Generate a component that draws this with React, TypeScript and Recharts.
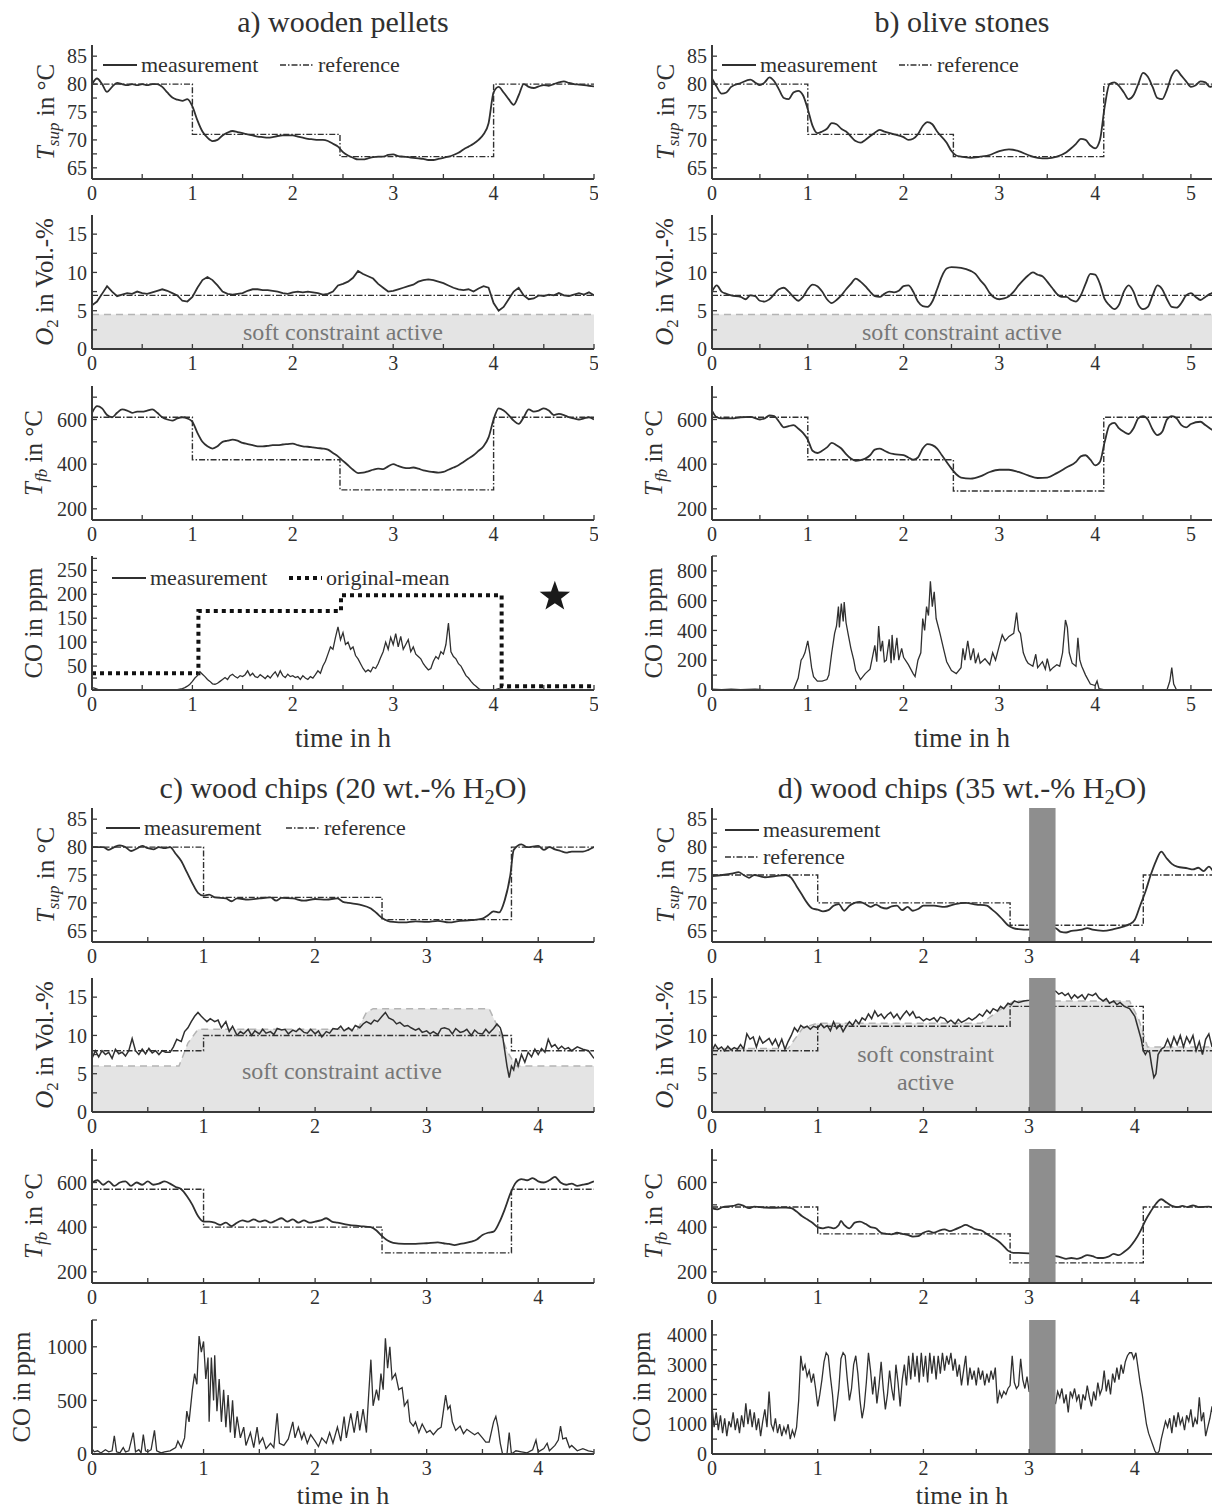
import React from 'react';
import { ComposedChart, Line, Area, XAxis, YAxis, ReferenceArea, ReferenceLine, ReferenceDot } from 'recharts';

type P = [number, number][];

// ---------- panel a: wooden pellets ----------
const aTsup: P = [[0,80],[0.05,81],[0.1,80],[0.15,78.6],[0.2,79.5],[0.25,80.2],[0.3,80],[0.35,79.8],[0.4,80],[0.45,79.8],[0.5,80],[0.55,79.8],[0.6,80],[0.65,80],[0.7,79.5],[0.75,78.5],[0.8,77.6],[0.85,77.2],[0.9,77],[0.95,77.3],[1,76],[1.05,73.5],[1.1,71.5],[1.15,70.4],[1.2,69.8],[1.25,70],[1.3,70.8],[1.35,71.3],[1.4,71.6],[1.45,71.4],[1.5,71.2],[1.55,71],[1.6,70.8],[1.65,70.6],[1.7,70.5],[1.75,70.4],[1.8,70.5],[1.85,70.7],[1.9,70.8],[1.95,70.8],[2,70.8],[2.05,70.6],[2.1,70.4],[2.15,70.2],[2.2,70.1],[2.25,70],[2.3,70],[2.35,69.8],[2.4,69.3],[2.45,68.8],[2.5,67.8],[2.55,67.2],[2.6,66.8],[2.65,66.5],[2.7,66.5],[2.75,66.7],[2.8,66.9],[2.85,67],[2.9,67],[2.95,67.3],[3,67.4],[3.05,67.1],[3.1,67],[3.15,66.9],[3.2,66.8],[3.25,66.7],[3.3,66.6],[3.35,66.4],[3.4,66.4],[3.45,66.6],[3.5,66.8],[3.55,67],[3.6,67.3],[3.65,67.7],[3.7,68.3],[3.75,68.8],[3.8,69.3],[3.85,70],[3.9,71],[3.95,73],[4,78.5],[4.05,79.5],[4.1,78.5],[4.15,77.3],[4.2,76.3],[4.25,78],[4.3,80],[4.35,79.5],[4.4,79.3],[4.45,79.6],[4.5,79.8],[4.55,79.7],[4.6,80],[4.65,80.3],[4.7,80.5],[4.75,80.2],[4.8,80],[4.85,79.9],[4.9,79.8],[4.95,79.7],[5,79.6]];
const aTref: P = [[0,80],[1,71],[2.47,67],[4,80],[5,80]];
const aO2: P = [[0,5.7],[0.05,6.2],[0.1,7.2],[0.15,8.2],[0.2,7.5],[0.25,6.9],[0.3,7.1],[0.35,7.3],[0.4,7.2],[0.45,7.5],[0.5,7.3],[0.55,7.2],[0.6,7.4],[0.65,7.6],[0.7,7.8],[0.75,7.6],[0.8,7.3],[0.85,7],[0.9,6.3],[0.95,6.2],[1,6.8],[1.05,8],[1.1,9],[1.15,9.4],[1.2,9],[1.25,8.3],[1.3,7.5],[1.35,7.2],[1.4,7.1],[1.45,7.2],[1.5,7.3],[1.55,7.6],[1.6,7.8],[1.65,7.8],[1.7,7.7],[1.75,7.7],[1.8,7.6],[1.85,7.5],[1.9,7.3],[1.95,7.2],[2,7.4],[2.05,7.5],[2.1,7.4],[2.15,7.5],[2.2,7.4],[2.25,7.3],[2.3,7.1],[2.35,7.2],[2.4,7.5],[2.45,8.3],[2.5,8.5],[2.55,8.8],[2.6,9.3],[2.65,10.2],[2.7,9.8],[2.75,9.5],[2.8,9.2],[2.85,8.5],[2.9,8],[2.95,7.5],[3,7.6],[3.05,7.8],[3.1,8],[3.15,8.2],[3.2,8.4],[3.25,8.8],[3.3,9],[3.35,9.1],[3.4,9],[3.45,8.8],[3.5,8.6],[3.55,8.3],[3.6,8],[3.65,7.8],[3.7,7.7],[3.75,7.8],[3.8,7.5],[3.85,7.9],[3.9,8.2],[3.95,8],[4,6],[4.05,5],[4.1,5.5],[4.15,6.5],[4.2,7.5],[4.25,8],[4.3,7],[4.35,6.5],[4.4,6.6],[4.45,7],[4.5,6.9],[4.55,7.1],[4.6,7],[4.65,7.3],[4.7,7],[4.75,6.9],[4.8,7.1],[4.85,7.3],[4.9,7.1],[4.95,7.4],[5,7]];
const aO2ref: P = [[0,7],[5,7]];
const aSoft = 4.5;
const aTfb: P = [[0,630],[0.05,660],[0.1,650],[0.15,620],[0.2,610],[0.25,630],[0.3,645],[0.35,640],[0.4,630],[0.45,635],[0.5,635],[0.55,640],[0.6,645],[0.65,630],[0.7,610],[0.75,600],[0.8,595],[0.85,605],[0.9,610],[0.95,605],[1,590],[1.05,540],[1.1,500],[1.15,480],[1.2,470],[1.25,480],[1.3,500],[1.35,505],[1.4,510],[1.45,505],[1.5,495],[1.55,490],[1.6,485],[1.65,480],[1.7,480],[1.75,482],[1.8,485],[1.85,485],[1.9,488],[1.95,490],[2,492],[2.05,485],[2.1,480],[2.15,478],[2.2,475],[2.25,472],[2.3,470],[2.35,465],[2.4,450],[2.45,435],[2.5,415],[2.55,395],[2.6,375],[2.65,360],[2.7,362],[2.75,368],[2.8,375],[2.85,380],[2.9,378],[2.95,390],[3,400],[3.05,392],[3.1,385],[3.15,382],[3.2,385],[3.25,380],[3.3,372],[3.35,368],[3.4,365],[3.45,362],[3.5,365],[3.55,375],[3.6,385],[3.65,395],[3.7,410],[3.75,425],[3.8,440],[3.85,460],[3.9,480],[3.95,520],[4,600],[4.05,650],[4.1,640],[4.15,620],[4.2,595],[4.25,580],[4.3,610],[4.35,645],[4.4,635],[4.45,640],[4.5,650],[4.55,640],[4.6,620],[4.65,625],[4.7,620],[4.75,610],[4.8,605],[4.85,600],[4.9,605],[4.95,610],[5,600]];
const aTfbRef: P = [[0,610],[1,420],[2.47,285],[4,610],[5,610]];
const aCO: P = [[0,5],[0.025,4],[0.05,2],[0.075,0],[0.825,0],[0.85,1],[0.875,2],[0.9,3],[0.925,5],[0.95,8],[0.975,12],[1,18],[1.025,25],[1.05,30],[1.075,38],[1.1,33],[1.125,28],[1.15,22],[1.175,18],[1.2,13],[1.225,12],[1.25,14],[1.275,18],[1.3,22],[1.325,26],[1.35,22],[1.375,30],[1.4,33],[1.425,28],[1.45,25],[1.475,30],[1.5,28],[1.525,32],[1.55,40],[1.575,30],[1.6,35],[1.625,28],[1.65,26],[1.675,32],[1.7,28],[1.725,24],[1.75,30],[1.775,25],[1.8,32],[1.825,38],[1.85,28],[1.875,40],[1.9,30],[1.925,26],[1.95,33],[1.975,28],[2,30],[2.025,26],[2.05,28],[2.075,22],[2.1,30],[2.125,25],[2.15,22],[2.175,28],[2.2,25],[2.225,32],[2.25,40],[2.275,35],[2.3,50],[2.325,60],[2.35,75],[2.375,90],[2.4,85],[2.425,110],[2.45,132],[2.475,105],[2.5,120],[2.525,95],[2.55,100],[2.575,85],[2.6,90],[2.625,72],[2.65,65],[2.675,55],[2.7,45],[2.725,38],[2.75,42],[2.775,38],[2.8,48],[2.825,45],[2.85,55],[2.875,68],[2.9,80],[2.925,100],[2.95,85],[2.975,110],[3,95],[3.025,118],[3.05,90],[3.075,112],[3.1,85],[3.125,95],[3.15,105],[3.175,80],[3.2,90],[3.225,75],[3.25,70],[3.275,65],[3.3,55],[3.325,48],[3.35,42],[3.375,45],[3.4,60],[3.425,70],[3.45,65],[3.475,80],[3.5,75],[3.525,95],[3.55,140],[3.575,80],[3.6,70],[3.625,65],[3.65,55],[3.675,50],[3.7,40],[3.725,30],[3.75,25],[3.775,18],[3.8,12],[3.825,8],[3.85,3],[3.875,0],[4.0,0],[4.05,3],[4.1,0],[4.15,2],[4.2,0],[5,0]];
const aCOmean: P = [[0,35],[1.06,165],[2.48,198],[4.08,8],[5,8]];
const aStar: P = [[4.61,195]];

// ---------- panel b: olive stones ----------
const bTsup: P = [[0,81],[0.05,79.5],[0.1,78.3],[0.15,78.5],[0.2,79.5],[0.3,80.2],[0.4,80.8],[0.45,80.3],[0.5,79.8],[0.55,80.3],[0.6,81.2],[0.65,80.5],[0.7,79],[0.75,77.5],[0.8,77.3],[0.85,78.5],[0.9,78.8],[0.95,78],[1,75.5],[1.05,72.5],[1.1,71.2],[1.15,71.5],[1.2,72],[1.25,73],[1.3,72.8],[1.35,72],[1.4,71.5],[1.5,69.8],[1.55,69.5],[1.6,70],[1.7,71.3],[1.75,71.8],[1.8,71.5],[1.9,71],[2,70.5],[2.05,70],[2.1,70.2],[2.15,71],[2.2,72.5],[2.25,73.2],[2.3,72.8],[2.35,71.5],[2.45,69.5],[2.5,68],[2.55,67.2],[2.6,67],[2.7,66.8],[2.8,67],[2.9,67.3],[3,68],[3.1,68.3],[3.2,68],[3.3,67.3],[3.4,66.8],[3.5,66.7],[3.6,67],[3.7,67.8],[3.75,68.5],[3.8,69.3],[3.85,70.2],[3.9,70],[3.95,69],[4,68.5],[4.05,70],[4.1,76],[4.15,80],[4.2,80.3],[4.3,78.5],[4.35,77.3],[4.4,78],[4.45,80],[4.5,82],[4.55,81.3],[4.6,79.5],[4.65,77.5],[4.7,77.3],[4.75,79],[4.8,81.5],[4.85,82.5],[4.9,81.5],[4.95,80.5],[5,79.5],[5.05,79.8],[5.1,80.5],[5.15,80.3],[5.2,79.5],[5.25,80]];
const bTref: P = [[0,80],[1,71],[2.52,67],[4.09,80],[5.25,80]];
const bO2: P = [[0,7.5],[0.05,8.3],[0.1,7.5],[0.15,7.2],[0.2,7],[0.3,6.8],[0.35,6.5],[0.4,7],[0.45,6.9],[0.5,6.3],[0.55,6.2],[0.6,6.5],[0.7,7.8],[0.75,8],[0.8,7.5],[0.85,6.8],[0.9,6.3],[0.95,6.8],[1,7.8],[1.05,8.4],[1.1,8.2],[1.15,7.5],[1.2,6.5],[1.25,6],[1.3,6.4],[1.35,7],[1.4,7.8],[1.45,8.5],[1.5,9.2],[1.55,8.8],[1.6,8.2],[1.65,7.5],[1.7,6.9],[1.75,6.8],[1.8,7.2],[1.85,7.5],[1.9,7.4],[1.95,7.6],[2,8.2],[2.05,8.3],[2.1,7.5],[2.15,6.2],[2.2,5.6],[2.25,5.5],[2.3,6.2],[2.35,7.8],[2.4,9.5],[2.45,10.5],[2.5,10.7],[2.6,10.6],[2.7,10.2],[2.75,9.8],[2.8,9],[2.85,8.3],[2.9,7.3],[2.95,6.7],[3,6.5],[3.05,6.6],[3.1,6.9],[3.15,7.5],[3.2,8.3],[3.25,9],[3.3,9.6],[3.35,10],[3.4,9.7],[3.45,9.5],[3.5,8.8],[3.55,8],[3.6,7.2],[3.65,6.8],[3.7,6.8],[3.75,6.4],[3.8,6.2],[3.85,7],[3.9,8.5],[3.95,9.8],[4,9.7],[4.05,8.5],[4.1,6.5],[4.15,5.7],[4.2,5.2],[4.25,5.8],[4.3,7.5],[4.35,8.3],[4.4,7.5],[4.45,5.8],[4.5,5.2],[4.55,5.5],[4.6,7],[4.65,8.3],[4.7,7.8],[4.75,6.5],[4.8,5.5],[4.85,5.4],[4.9,6],[4.95,7],[5,7.3],[5.05,6.8],[5.1,6.4],[5.15,6.8],[5.2,7.2],[5.25,7.5]];
const bO2ref: P = [[0,7],[5.25,7]];
const bSoft = 4.5;
const bTfb: P = [[0,640],[0.05,610],[0.1,605],[0.2,605],[0.3,610],[0.4,612],[0.5,600],[0.55,605],[0.6,618],[0.65,615],[0.7,590],[0.75,565],[0.8,570],[0.85,575],[0.9,560],[0.95,540],[1,510],[1.05,460],[1.1,450],[1.15,460],[1.2,475],[1.25,495],[1.3,485],[1.35,470],[1.4,445],[1.45,425],[1.5,415],[1.55,418],[1.6,425],[1.65,440],[1.7,465],[1.75,470],[1.8,460],[1.85,450],[1.9,445],[2,440],[2.05,430],[2.1,420],[2.15,430],[2.2,470],[2.25,490],[2.3,485],[2.35,470],[2.4,440],[2.45,410],[2.5,380],[2.55,355],[2.6,340],[2.7,335],[2.8,345],[2.9,365],[3,375],[3.1,375],[3.2,365],[3.3,350],[3.4,338],[3.5,340],[3.6,360],[3.7,385],[3.8,410],[3.85,435],[3.9,440],[3.95,420],[4,395],[4.05,410],[4.1,500],[4.15,575],[4.2,585],[4.25,560],[4.3,545],[4.35,535],[4.4,560],[4.45,605],[4.5,615],[4.55,600],[4.6,555],[4.65,530],[4.7,545],[4.75,600],[4.8,615],[4.85,605],[4.9,575],[4.95,565],[5,580],[5.1,590],[5.15,575],[5.2,560],[5.25,545]];
const bTfbRef: P = [[0,610],[1,420],[2.52,280],[4.09,610],[5.25,610]];
const bCO: P = [[0,5],[0.1,3],[0.2,6],[0.3,2],[0.45,5],[0.55,3],[0.65,0],[0.85,0],[0.9,80],[0.93,200],[0.95,220],[0.97,250],[1,330],[1.02,250],[1.04,150],[1.06,90],[1.1,60],[1.15,60],[1.2,70],[1.22,100],[1.25,250],[1.28,380],[1.3,430],[1.32,560],[1.33,420],[1.35,580],[1.37,460],[1.38,590],[1.4,450],[1.42,380],[1.45,280],[1.48,200],[1.5,130],[1.55,70],[1.6,110],[1.65,140],[1.7,300],[1.72,190],[1.74,430],[1.76,260],[1.78,330],[1.8,190],[1.82,200],[1.85,340],[1.87,180],[1.88,370],[1.9,200],[1.93,350],[1.95,200],[1.98,280],[2,220],[2.05,170],[2.1,110],[2.12,90],[2.15,200],[2.18,250],[2.2,480],[2.22,400],[2.24,560],[2.26,500],[2.28,730],[2.3,560],[2.32,660],[2.34,480],[2.38,380],[2.42,270],[2.45,190],[2.5,130],[2.55,110],[2.6,150],[2.62,280],[2.64,200],[2.67,330],[2.7,200],[2.73,280],[2.75,180],[2.78,240],[2.8,180],[2.85,210],[2.9,170],[2.93,250],[2.96,200],[3,300],[3.03,370],[3.06,330],[3.1,360],[3.15,380],[3.18,520],[3.2,400],[3.22,380],[3.25,250],[3.28,200],[3.3,180],[3.35,160],[3.38,240],[3.4,150],[3.45,190],[3.48,140],[3.5,210],[3.53,130],[3.56,150],[3.6,170],[3.63,160],[3.66,250],[3.69,470],[3.71,420],[3.73,250],[3.76,180],[3.8,160],[3.82,350],[3.84,200],[3.86,160],[3.9,100],[3.95,40],[4,30],[4.02,60],[4.04,10],[4.1,0],[4.75,0],[4.78,60],[4.8,150],[4.82,40],[4.85,0],[5.25,0]];

// ---------- panel c: wood chips 20 % ----------
const cTsup: P = [[0,80],[0.1,80],[0.15,79.5],[0.2,80],[0.25,80.3],[0.3,80],[0.35,79.3],[0.4,79.7],[0.45,80.2],[0.5,79.8],[0.55,79.6],[0.6,80],[0.65,79.8],[0.7,80],[0.75,78.8],[0.8,77.5],[0.85,75.5],[0.9,73.5],[0.95,71.8],[1,71.3],[1.05,71.5],[1.1,71],[1.2,70.8],[1.25,70.3],[1.3,70.8],[1.4,70.6],[1.5,70.8],[1.6,71],[1.65,70.4],[1.7,70.9],[1.8,70.8],[1.9,70.4],[2,70.7],[2.1,70.6],[2.2,70.8],[2.25,70.2],[2.3,70],[2.4,69.7],[2.5,69],[2.55,68.2],[2.6,67.3],[2.65,66.8],[2.7,66.6],[2.8,66.5],[2.9,66.7],[3,66.6],[3.1,66.8],[3.2,66.5],[3.3,66.8],[3.4,66.9],[3.5,67.2],[3.55,67.8],[3.6,68.5],[3.65,68.3],[3.7,70.5],[3.75,75],[3.78,79.5],[3.85,80.5],[3.9,80],[4,80.2],[4.05,79.5],[4.1,80],[4.15,79.6],[4.2,79.3],[4.25,79],[4.3,79.2],[4.4,79.2],[4.45,79.5],[4.5,80]];
const cTref: P = [[0,80],[1,71],[2.6,67],[3.76,80],[4.5,80]];
const cO2: P = [[0,7],[0.03,8],[0.06,7.2],[0.09,8],[0.12,7.5],[0.15,7.8],[0.18,7],[0.21,8.2],[0.24,7.6],[0.27,7.8],[0.3,7.3],[0.33,8],[0.36,9.6],[0.39,8],[0.42,7.5],[0.45,8.2],[0.48,7.6],[0.51,8.3],[0.54,7.7],[0.57,8],[0.6,7.5],[0.63,8],[0.66,7.8],[0.7,7.8],[0.73,8.5],[0.76,9.5],[0.8,9.2],[0.83,10.5],[0.86,11],[0.89,11.8],[0.92,12.5],[0.95,13],[0.98,12.5],[1,12.2],[1.03,11.8],[1.06,12.2],[1.1,11.8],[1.13,12],[1.16,11],[1.2,11.8],[1.23,10.5],[1.26,11.2],[1.3,10],[1.33,10.5],[1.36,10.2],[1.4,10.8],[1.43,10],[1.46,10.6],[1.5,10.2],[1.53,10.8],[1.56,10.3],[1.6,10.5],[1.63,10.1],[1.66,10.9],[1.7,10.7],[1.73,10.8],[1.76,10.2],[1.8,10.7],[1.83,10.5],[1.86,10.9],[1.9,10.4],[1.93,10.3],[1.96,10.8],[2,10.2],[2.03,10.6],[2.06,9.8],[2.1,10.5],[2.13,10.3],[2.16,10.9],[2.2,10.8],[2.23,11.2],[2.26,10.6],[2.3,11],[2.33,10.6],[2.36,11.3],[2.4,11],[2.43,11.5],[2.46,11.8],[2.5,11.5],[2.53,12],[2.56,11.8],[2.6,12.5],[2.63,13],[2.66,12.3],[2.7,12],[2.73,11.5],[2.76,11.7],[2.8,11.2],[2.83,11.3],[2.86,11],[2.9,10.7],[2.93,10.9],[2.96,10.4],[3,10.6],[3.03,10.2],[3.06,10.5],[3.1,10.1],[3.13,10.9],[3.16,11],[3.2,10.8],[3.23,10.2],[3.26,10.9],[3.3,10.4],[3.33,10.5],[3.36,10.8],[3.4,10],[3.43,10.7],[3.46,10.3],[3.5,10.2],[3.53,10.8],[3.56,10.3],[3.6,10.9],[3.63,11.5],[3.66,11],[3.68,10],[3.7,8],[3.72,6],[3.74,4.5],[3.76,6],[3.78,5.5],[3.8,7],[3.82,6],[3.85,7.5],[3.88,6.5],[3.91,7.8],[3.94,7.2],[3.97,8.2],[4,7.5],[4.03,8.3],[4.06,7.8],[4.09,9.5],[4.12,8.5],[4.15,8.8],[4.18,8.2],[4.21,8.6],[4.24,8.2],[4.27,8.4],[4.3,8],[4.35,8.5],[4.4,8.2],[4.45,8],[4.5,7]];
const cO2ref: P = [[0,8],[1,10],[3.76,8],[4.5,8]];
const cSoft: P = [[0,6],[0.78,6],[0.86,9],[0.95,10.8],[2.38,10.8],[2.46,13],[2.52,13.5],[3.56,13.5],[3.64,11],[3.72,8],[3.8,6],[4.5,6]];
const cTfb: P = [[0,600],[0.05,610],[0.1,590],[0.15,605],[0.2,585],[0.25,600],[0.3,605],[0.35,585],[0.4,600],[0.45,590],[0.5,605],[0.55,590],[0.6,595],[0.65,605],[0.7,595],[0.75,580],[0.8,570],[0.85,540],[0.9,500],[0.95,450],[1,425],[1.05,425],[1.1,420],[1.15,410],[1.2,420],[1.25,405],[1.3,420],[1.35,430],[1.4,425],[1.45,435],[1.5,425],[1.55,430],[1.6,420],[1.65,430],[1.7,440],[1.75,425],[1.8,435],[1.85,420],[1.9,430],[1.95,420],[2,425],[2.05,430],[2.1,440],[2.15,425],[2.2,420],[2.3,410],[2.4,405],[2.5,400],[2.55,385],[2.6,360],[2.65,340],[2.7,330],[2.8,325],[2.9,325],[3,328],[3.1,332],[3.15,328],[3.2,325],[3.25,320],[3.3,325],[3.4,335],[3.45,345],[3.5,365],[3.55,375],[3.6,380],[3.65,420],[3.7,480],[3.75,550],[3.8,600],[3.85,615],[3.9,610],[3.95,620],[4,605],[4.05,600],[4.1,610],[4.15,625],[4.2,600],[4.25,590],[4.3,595],[4.35,585],[4.4,590],[4.45,595],[4.5,605]];
const cTfbRef: P = [[0,570],[1,400],[2.6,285],[3.76,570],[4.5,570]];
const cCO: P = [[0,50],[0.02,20],[0.05,30],[0.08,10],[0.12,40],[0.15,20],[0.18,30],[0.2,170],[0.22,20],[0.25,10],[0.28,60],[0.3,20],[0.33,30],[0.37,200],[0.39,20],[0.42,40],[0.44,10],[0.46,180],[0.48,30],[0.5,20],[0.53,40],[0.56,220],[0.58,30],[0.62,10],[0.65,20],[0.7,30],[0.75,60],[0.77,120],[0.8,60],[0.83,150],[0.85,400],[0.87,300],[0.9,600],[0.92,750],[0.94,650],[0.96,1100],[0.98,950],[1,1050],[1.02,700],[1.04,900],[1.05,300],[1.07,900],[1.09,500],[1.1,920],[1.12,400],[1.14,700],[1.16,300],[1.18,600],[1.2,250],[1.22,550],[1.24,200],[1.26,500],[1.28,150],[1.3,350],[1.33,150],[1.36,250],[1.38,80],[1.42,200],[1.45,60],[1.48,250],[1.5,100],[1.53,150],[1.56,50],[1.6,100],[1.63,60],[1.66,380],[1.68,100],[1.72,80],[1.76,140],[1.8,300],[1.82,150],[1.85,250],[1.88,140],[1.9,200],[1.93,100],[1.96,180],[2,120],[2.03,70],[2.06,150],[2.1,100],[2.13,200],[2.16,100],[2.2,250],[2.23,120],[2.26,350],[2.28,150],[2.32,380],[2.35,200],[2.38,400],[2.4,220],[2.43,420],[2.46,200],[2.48,550],[2.5,880],[2.52,450],[2.55,600],[2.57,500],[2.59,750],[2.61,600],[2.63,1080],[2.65,800],[2.67,1000],[2.69,700],[2.72,750],[2.75,600],[2.78,620],[2.8,450],[2.83,500],[2.85,300],[2.88,260],[2.9,300],[2.93,200],[2.96,280],[3,200],[3.03,220],[3.06,180],[3.1,230],[3.13,250],[3.15,400],[3.17,550],[3.19,420],[3.21,450],[3.23,300],[3.26,220],[3.3,260],[3.33,190],[3.36,230],[3.4,200],[3.43,180],[3.46,200],[3.5,150],[3.53,110],[3.56,110],[3.6,300],[3.62,350],[3.64,250],[3.66,100],[3.68,0],[3.72,0],[3.74,200],[3.76,0],[3.8,30],[3.85,20],[3.9,10],[3.95,40],[3.98,130],[4,20],[4.05,50],[4.08,100],[4.1,30],[4.15,80],[4.18,130],[4.2,260],[4.22,140],[4.25,150],[4.28,60],[4.3,80],[4.35,30],[4.4,50],[4.45,30],[4.5,20]];

// ---------- panel d: wood chips 35 % ----------
const dTsup: P = [[0,74.8],[0.1,75],[0.2,75.3],[0.25,75.5],[0.3,75],[0.35,74.5],[0.4,75],[0.5,74.6],[0.6,74.8],[0.7,75],[0.75,74.5],[0.8,73],[0.85,71.5],[0.9,70],[0.95,69],[1,68.8],[1.05,68.5],[1.1,68.7],[1.15,69.5],[1.2,69.8],[1.25,68.6],[1.3,69.5],[1.35,70],[1.4,70.2],[1.45,69.8],[1.5,69.3],[1.55,69.7],[1.6,69.2],[1.65,69],[1.7,69.4],[1.75,69.5],[1.8,68.7],[1.85,69.3],[1.9,68.6],[1.95,68.9],[2,69.5],[2.1,69.5],[2.2,69.3],[2.3,69.8],[2.4,70],[2.5,69.7],[2.6,69.5],[2.65,68.8],[2.7,68],[2.75,67],[2.8,66],[2.85,65.5],[2.9,65.3],[3,65.2],[3.1,65.5],[3.2,65.6],[3.25,65.5],[3.3,64.8],[3.35,64.7],[3.4,65],[3.5,65.2],[3.55,65.5],[3.6,65.2],[3.7,65],[3.8,65.3],[3.9,65.8],[3.95,66.2],[4,67],[4.05,69.5],[4.1,72],[4.15,75],[4.2,77.5],[4.25,79.2],[4.3,78],[4.35,77],[4.4,76.5],[4.5,76.2],[4.55,76],[4.6,76.3],[4.65,75.7],[4.7,76.5],[4.75,75.3]];
const dTref: P = [[0,75],[1,70],[2.82,66],[4.08,75],[4.75,75]];
const dO2: P = [[0,8],[0.03,8.8],[0.06,8.2],[0.09,8.5],[0.12,8],[0.15,8.6],[0.18,8.1],[0.21,8.4],[0.24,8.2],[0.27,8.8],[0.3,8.2],[0.33,10.2],[0.36,9.5],[0.39,9.8],[0.42,8.5],[0.45,9.8],[0.48,9],[0.51,9.3],[0.54,9.6],[0.57,8.8],[0.6,9.5],[0.63,8.5],[0.66,9.5],[0.69,8.2],[0.72,9.2],[0.75,10],[0.78,11],[0.81,10.5],[0.84,11.3],[0.87,11],[0.9,11.2],[0.93,10.8],[0.96,11.2],[1,11],[1.03,11.5],[1.06,11],[1.09,11.3],[1.12,10.6],[1.15,11.8],[1.18,10.9],[1.21,11.4],[1.24,10.5],[1.27,11.2],[1.3,11.8],[1.33,11.3],[1.36,12],[1.39,11.5],[1.42,12.3],[1.45,12],[1.48,12.8],[1.51,12.2],[1.54,13.2],[1.57,12.5],[1.6,12.8],[1.63,12.2],[1.66,12.7],[1.69,13],[1.72,12.3],[1.75,12.8],[1.78,12.1],[1.81,12.7],[1.84,13.2],[1.87,12.6],[1.9,13.1],[1.93,12.3],[1.96,12.4],[2,11.9],[2.03,12.2],[2.06,12],[2.1,12.3],[2.13,11.8],[2.16,12.4],[2.2,12.2],[2.23,11.7],[2.26,12],[2.3,11.5],[2.33,12.1],[2.36,11.7],[2.4,12],[2.43,12.3],[2.46,12],[2.5,12.4],[2.53,12.8],[2.56,12.5],[2.6,13.3],[2.63,12.9],[2.66,13.5],[2.7,13.2],[2.73,13.8],[2.76,13.5],[2.8,14.2],[2.83,14],[2.86,14.5],[2.9,14.3],[2.95,14.5],[3,14.6],[3.1,15],[3.25,15.8],[3.28,15.4],[3.31,15.6],[3.34,15.2],[3.37,15.5],[3.4,14.8],[3.43,15.3],[3.46,14.9],[3.5,15.3],[3.53,14.7],[3.56,15.4],[3.6,15.2],[3.63,15.5],[3.66,14.9],[3.7,14.5],[3.73,14.8],[3.76,14.2],[3.8,14.5],[3.83,14],[3.86,14.3],[3.9,13.8],[3.95,13.5],[4,12.5],[4.03,11],[4.06,9.5],[4.08,8],[4.1,7.5],[4.12,8],[4.14,7.8],[4.16,6],[4.18,4.5],[4.2,5],[4.22,7.5],[4.25,8.2],[4.28,8.5],[4.31,9.5],[4.34,8.5],[4.37,9.8],[4.4,8.8],[4.43,10],[4.46,8.5],[4.49,9.8],[4.52,9],[4.55,10],[4.58,8],[4.61,9.2],[4.64,7.5],[4.67,9.5],[4.7,10.2],[4.73,8.5],[4.75,9.8]];
const dO2ref: P = [[0,8],[1,11.2],[2.82,13.8],[4.08,8],[4.75,8]];
const dSoft: P = [[0,8.3],[0.72,8.3],[0.86,11],[1,11.6],[2.55,11.6],[2.75,13.6],[2.86,14.5],[3.95,14.5],[4.04,12],[4.12,8.5],[4.75,8.5]];
const dTfb: P = [[0,485],[0.05,480],[0.1,490],[0.2,495],[0.25,502],[0.3,495],[0.35,485],[0.4,492],[0.5,488],[0.6,487],[0.7,488],[0.75,485],[0.8,470],[0.85,450],[0.9,435],[0.95,420],[1,400],[1.05,395],[1.1,400],[1.15,395],[1.2,410],[1.22,428],[1.25,410],[1.3,395],[1.35,420],[1.4,425],[1.45,415],[1.5,400],[1.55,395],[1.6,375],[1.65,370],[1.7,368],[1.75,375],[1.8,370],[1.85,365],[1.9,358],[1.95,360],[2,375],[2.05,382],[2.1,375],[2.15,385],[2.2,390],[2.25,382],[2.3,390],[2.35,400],[2.4,410],[2.45,400],[2.5,390],[2.55,385],[2.6,370],[2.65,355],[2.7,340],[2.75,320],[2.8,295],[2.85,285],[2.9,285],[3,283],[3.1,278],[3.25,270],[3.3,265],[3.35,258],[3.4,262],[3.45,258],[3.5,265],[3.55,275],[3.6,270],[3.65,262],[3.7,262],[3.75,268],[3.8,280],[3.85,275],[3.9,290],[3.95,310],[4,340],[4.05,380],[4.1,430],[4.15,470],[4.2,505],[4.25,525],[4.3,510],[4.35,495],[4.4,490],[4.45,495],[4.5,490],[4.55,498],[4.6,490],[4.7,492],[4.75,485]];
const dTfbRef: P = [[0,490],[1,370],[2.82,240],[4.08,490],[4.75,490]];
const dCO: P = [[0,1600],[0.02,900],[0.04,1400],[0.06,800],[0.08,1300],[0.1,700],[0.12,1200],[0.14,600],[0.16,1100],[0.18,900],[0.2,1400],[0.22,800],[0.24,1200],[0.26,700],[0.28,1300],[0.3,900],[0.32,1700],[0.34,1000],[0.36,1500],[0.38,900],[0.4,1400],[0.42,800],[0.44,1200],[0.46,600],[0.48,1100],[0.5,1500],[0.52,900],[0.54,2100],[0.56,1000],[0.58,800],[0.6,1200],[0.62,700],[0.64,1000],[0.66,600],[0.68,900],[0.7,700],[0.72,1000],[0.74,500],[0.76,800],[0.78,600],[0.8,900],[0.82,1800],[0.84,3300],[0.86,2800],[0.88,3000],[0.9,2600],[0.92,2800],[0.94,2400],[0.96,2700],[0.98,2200],[1,1600],[1.02,2000],[1.04,2500],[1.06,3100],[1.08,3400],[1.1,3300],[1.12,2600],[1.14,2000],[1.16,1100],[1.18,1600],[1.2,2200],[1.22,3200],[1.24,3400],[1.26,3300],[1.28,2500],[1.3,1800],[1.32,2200],[1.34,3000],[1.36,3300],[1.38,2700],[1.4,1800],[1.42,1200],[1.44,1600],[1.46,2400],[1.48,3400],[1.5,2800],[1.52,2000],[1.54,2600],[1.56,1700],[1.58,2300],[1.6,3100],[1.62,2200],[1.64,1500],[1.66,2000],[1.68,2800],[1.7,2200],[1.72,1800],[1.74,3000],[1.76,2400],[1.78,1600],[1.8,2500],[1.82,3000],[1.84,2300],[1.86,3300],[1.88,2500],[1.9,3400],[1.92,2600],[1.94,3300],[1.96,2400],[1.98,3400],[2,2600],[2.02,3300],[2.04,2400],[2.06,3400],[2.08,2700],[2.1,3300],[2.12,2500],[2.14,3300],[2.16,2700],[2.18,3400],[2.2,2800],[2.22,3300],[2.24,3000],[2.26,3400],[2.28,2800],[2.3,3200],[2.32,2600],[2.34,3000],[2.36,2300],[2.38,2800],[2.4,3300],[2.42,2300],[2.44,2900],[2.46,2500],[2.48,2800],[2.5,2300],[2.52,2900],[2.54,2500],[2.56,2800],[2.58,2300],[2.6,2700],[2.62,2400],[2.64,2800],[2.66,2500],[2.68,2900],[2.7,1700],[2.72,2100],[2.74,1900],[2.76,2100],[2.78,2000],[2.8,2200],[2.82,2300],[2.84,3300],[2.86,2400],[2.88,2200],[2.9,2300],[2.92,3200],[2.94,2500],[2.96,2200],[2.98,2600],[3,2100],[3.1,2000],[3.25,1700],[3.27,2100],[3.29,1900],[3.31,2200],[3.33,1700],[3.35,2000],[3.37,1400],[3.39,2100],[3.41,1900],[3.43,2200],[3.45,1800],[3.47,2000],[3.49,1500],[3.51,2000],[3.53,1800],[3.55,2300],[3.57,1900],[3.59,1600],[3.61,2100],[3.63,1800],[3.65,2400],[3.67,2000],[3.69,2200],[3.71,2800],[3.73,2100],[3.75,2500],[3.77,2000],[3.79,2700],[3.81,2400],[3.83,2900],[3.85,2500],[3.87,3000],[3.89,2700],[3.91,3100],[3.93,3300],[3.95,3400],[3.97,3400],[3.99,3200],[4.01,3400],[4.03,2900],[4.05,2400],[4.07,2000],[4.09,1500],[4.11,1000],[4.13,700],[4.15,500],[4.17,300],[4.19,100],[4.21,0],[4.23,100],[4.25,500],[4.27,800],[4.29,1100],[4.31,900],[4.33,1200],[4.35,700],[4.37,1300],[4.39,900],[4.41,1400],[4.43,1000],[4.45,1200],[4.47,800],[4.49,1300],[4.51,1100],[4.53,1500],[4.55,900],[4.57,1200],[4.59,1000],[4.61,1900],[4.63,1100],[4.65,1400],[4.67,600],[4.69,900],[4.71,1200],[4.73,1600],[4.75,900]];
const dBand: [number, number] = [3, 3.25];

// ---------- axes ----------
type Ax = { domain: [number, number]; ticks: number[]; major: number };
const xA: Ax = { domain: [0, 5], ticks: [0,0.5,1,1.5,2,2.5,3,3.5,4,4.5,5], major: 1 };
const xB: Ax = { domain: [0, 5.22], ticks: [0,0.5,1,1.5,2,2.5,3,3.5,4,4.5,5], major: 1 };
const xC: Ax = { domain: [0, 4.5], ticks: [0,0.5,1,1.5,2,2.5,3,3.5,4,4.5], major: 1 };
const xD: Ax = { domain: [0, 4.73], ticks: [0,0.5,1,1.5,2,2.5,3,3.5,4,4.5], major: 1 };
const yT: Ax = { domain: [63, 87], ticks: [65,67.5,70,72.5,75,77.5,80,82.5,85], major: 5 };
const yO: Ax = { domain: [0, 17.5], ticks: [0,2.5,5,7.5,10,12.5,15], major: 5 };
const yF: Ax = { domain: [150, 750], ticks: [200,300,400,500,600,700], major: 200 };
const yCOa: Ax = { domain: [0, 280], ticks: [0,25,50,75,100,125,150,175,200,225,250,275], major: 50 };
const yCOb: Ax = { domain: [0, 900], ticks: [0,100,200,300,400,500,600,700,800,900], major: 200 };
const yCOc: Ax = { domain: [0, 1250], ticks: [0,250,500,750,1000,1250], major: 500 };
const yCOd: Ax = { domain: [0, 4500], ticks: [0,500,1000,1500,2000,2500,3000,3500,4000], major: 1000 };

const FONT = '"Liberation Serif", "Times New Roman", Times, serif';
const INK = '#303030';
const FILL = '#e4e4e4';
const DASHG = '#b4b4b4';
const BANDC = '#8e8e8e';
const BOX_H = 134;
const ROWS_TOP = [45, 215, 386, 556];
const ROWS_BOT = [808, 978, 1149, 1320];
const LEFT_L = 92, W_L = 502, LEFT_R = 712, W_R = 500;

const rows = (p: P) => p.map(([t, v]) => ({ t, v }));
const fmt = (major: number) => (v: number) => (Math.abs(v / major - Math.round(v / major)) < 1e-6 ? String(v) : '');
const blank = () => '';

const tickStyle = { fill: INK, fontSize: 20, fontFamily: FONT };
const axLine = { stroke: '#3a3a3a', strokeWidth: 2 };
const tkLine = { stroke: '#3a3a3a', strokeWidth: 1.3 };

function Sub(props: { left: number; top: number; w: number; x: Ax; y: Ax; children?: React.ReactNode }) {
  const { left, top, w, x, y, children } = props;
  const LW = 90, BH = 34, M = 4;
  return (
    <div style={{ position: 'absolute', left: left - LW, top: top - M }}>
      <ComposedChart width={LW + w + M} height={M + BOX_H + BH} margin={{ top: M, right: M, bottom: 0, left: 0 }}>
        <XAxis xAxisId={0} dataKey="t" type="number" domain={x.domain} ticks={x.ticks} interval={0} allowDataOverflow height={BH} tickSize={-5} tickMargin={12} tickFormatter={fmt(x.major)} tick={tickStyle} axisLine={axLine} tickLine={tkLine} />
        <XAxis xAxisId="top" orientation="top" dataKey="t" type="number" domain={x.domain} ticks={x.ticks} interval={0} allowDataOverflow height={0} tickSize={-5} tickFormatter={blank} axisLine={axLine} tickLine={tkLine} />
        <YAxis yAxisId={0} type="number" domain={y.domain} ticks={y.ticks} interval={0} allowDataOverflow width={LW} tickSize={-5} tickMargin={10} tickFormatter={fmt(y.major)} tick={tickStyle} axisLine={axLine} tickLine={tkLine} />
        <YAxis yAxisId="r" orientation="right" type="number" domain={y.domain} ticks={y.ticks} interval={0} allowDataOverflow width={0} tickSize={-5} tickFormatter={blank} axisLine={axLine} tickLine={tkLine} />
        {children}
      </ComposedChart>
    </div>
  );
}

const meas = (p: P, smooth = true, sw = 1.8) => (
  <Line data={rows(p)} dataKey="v" type={smooth ? 'monotone' : 'linear'} stroke={INK} strokeWidth={sw} dot={false} activeDot={false} isAnimationActive={false} />
);
const refL = (p: P) => (
  <Line data={rows(p)} dataKey="v" type="stepAfter" stroke={INK} strokeWidth={1.4} strokeDasharray="6 2 1.5 2" dot={false} activeDot={false} isAnimationActive={false} />
);
const softArea = (p: P) => (
  <Area data={rows(p)} dataKey="v" type="linear" fill={FILL} fillOpacity={1} stroke={DASHG} strokeWidth={1.5} strokeDasharray="7 5" dot={false} activeDot={false} isAnimationActive={false} baseValue={0} />
);
const band = () => (
  <ReferenceArea x1={dBand[0]} x2={dBand[1]} fill={BANDC} fillOpacity={1} stroke="none" ifOverflow="hidden" {...({ zIndex: 450 } as any)} />
);
const txtLabel = (value: string) => ({ value, position: 'center' as const, fill: '#777777', fontSize: 24, fontFamily: FONT });

const starShape = (p: any) => {
  const { cx, cy } = p;
  const pts: string[] = [];
  for (let i = 0; i < 10; i++) {
    const r = i % 2 === 0 ? 16 : 6.5;
    const a = -Math.PI / 2 + (i * Math.PI) / 5;
    pts.push(`${cx + r * Math.cos(a)},${cy + r * Math.sin(a)}`);
  }
  return <polygon points={pts.join(' ')} fill="#1a1a1a" />;
};

function YLab({ cx, cy, children }: { cx: number; cy: number; children: React.ReactNode }) {
  return (
    <div style={{ position: 'absolute', left: cx, top: cy, transform: 'translate(-50%,-50%) rotate(-90deg)', whiteSpace: 'nowrap', fontFamily: FONT, fontSize: 25, color: INK, lineHeight: 1 }}>
      {children}
    </div>
  );
}
const subS: React.CSSProperties = { fontSize: '0.68em', verticalAlign: '-0.3em', lineHeight: 0 };
const TsupLab = () => (<span><i>T</i><sub style={subS}><i>sup</i></sub> in °C</span>);
const O2Lab = () => (<span><i>O</i><sub style={subS}>2</sub> in Vol.-%</span>);
const TfbLab = () => (<span><i>T</i><sub style={subS}><i>fb</i></sub> in °C</span>);
const COLab = () => (<span>CO in ppm</span>);

function Txt({ cx, cy, size, children }: { cx: number; cy: number; size: number; children: React.ReactNode }) {
  return (
    <div style={{ position: 'absolute', left: cx, top: cy, transform: 'translate(-50%,-50%)', whiteSpace: 'nowrap', fontFamily: FONT, fontSize: size, color: INK, lineHeight: 1 }}>
      {children}
    </div>
  );
}

function Sample({ kind }: { kind: 'solid' | 'dashdot' | 'dots' }) {
  return (
    <svg width={34} height={10} style={{ display: 'block' }}>
      {kind === 'solid' && <line x1={0} y1={5} x2={34} y2={5} stroke={INK} strokeWidth={1.8} />}
      {kind === 'dashdot' && <line x1={0} y1={5} x2={34} y2={5} stroke={INK} strokeWidth={1.4} strokeDasharray="6 2 1.5 2" />}
      {kind === 'dots' && <line x1={1} y1={5} x2={34} y2={5} stroke="#111" strokeWidth={4} strokeDasharray="4 4" />}
    </svg>
  );
}
function LegItem({ x, y, kind, text }: { x: number; y: number; kind: 'solid' | 'dashdot' | 'dots'; text: string }) {
  return (
    <div style={{ position: 'absolute', left: x, top: y, transform: 'translateY(-50%)', display: 'flex', alignItems: 'center', gap: 4, fontFamily: FONT, fontSize: 22, color: INK, whiteSpace: 'nowrap', lineHeight: 1 }}>
      <Sample kind={kind} />
      <span>{text}</span>
    </div>
  );
}

export default function App() {
  const [t1, t2, t3, t4] = ROWS_TOP;
  const [b1, b2, b3, b4] = ROWS_BOT;
  const hc = BOX_H / 2;
  return (
    <div style={{ position: 'absolute', left: 0, top: 0, width: 1218, height: 1512, background: '#fff', overflow: 'hidden' }}>
      {/* ---------- a ---------- */}
      <Txt cx={LEFT_L + W_L / 2} cy={22} size={30}>a) wooden pellets</Txt>
      <Sub left={LEFT_L} top={t1} w={W_L} x={xA} y={yT}>{meas(aTsup)}{refL(aTref)}</Sub>
      <Sub left={LEFT_L} top={t2} w={W_L} x={xA} y={yO}>
        <ReferenceArea y1={0} y2={aSoft} fill={FILL} fillOpacity={1} stroke="none" label={txtLabel('soft constraint active')} />
        <ReferenceLine y={aSoft} stroke={DASHG} strokeWidth={1.5} strokeDasharray="7 5" />
        {refL(aO2ref)}{meas(aO2, false, 1.8)}
      </Sub>
      <Sub left={LEFT_L} top={t3} w={W_L} x={xA} y={yF}>{meas(aTfb)}{refL(aTfbRef)}</Sub>
      <Sub left={LEFT_L} top={t4} w={W_L} x={xA} y={yCOa}>
        <Line data={rows(aCOmean)} dataKey="v" type="stepAfter" stroke="#111" strokeWidth={4} strokeDasharray="4 4" dot={false} activeDot={false} isAnimationActive={false} />
        {meas(aCO, false, 1.3)}
        <ReferenceDot x={aStar[0][0]} y={aStar[0][1]} r={16} shape={starShape} />
      </Sub>
      <LegItem x={103} y={65} kind="solid" text="measurement" />
      <LegItem x={280} y={65} kind="dashdot" text="reference" />
      <LegItem x={112} y={578} kind="solid" text="measurement" />
      <LegItem x={288} y={578} kind="dots" text="original-mean" />
      <YLab cx={LEFT_L - 47} cy={t1 + hc}><TsupLab /></YLab>
      <YLab cx={LEFT_L - 48} cy={t2 + hc}><O2Lab /></YLab>
      <YLab cx={LEFT_L - 59} cy={t3 + hc}><TfbLab /></YLab>
      <YLab cx={LEFT_L - 59} cy={t4 + hc}><COLab /></YLab>
      <Txt cx={LEFT_L + W_L / 2} cy={738} size={27}>time in h</Txt>

      {/* ---------- b ---------- */}
      <Txt cx={LEFT_R + W_R / 2} cy={22} size={30}>b) olive stones</Txt>
      <Sub left={LEFT_R} top={t1} w={W_R} x={xB} y={yT}>{meas(bTsup)}{refL(bTref)}</Sub>
      <Sub left={LEFT_R} top={t2} w={W_R} x={xB} y={yO}>
        <ReferenceArea y1={0} y2={bSoft} fill={FILL} fillOpacity={1} stroke="none" label={txtLabel('soft constraint active')} />
        <ReferenceLine y={bSoft} stroke={DASHG} strokeWidth={1.5} strokeDasharray="7 5" />
        {refL(bO2ref)}{meas(bO2)}
      </Sub>
      <Sub left={LEFT_R} top={t3} w={W_R} x={xB} y={yF}>{meas(bTfb)}{refL(bTfbRef)}</Sub>
      <Sub left={LEFT_R} top={t4} w={W_R} x={xB} y={yCOb}>{meas(bCO, false, 1.3)}</Sub>
      <LegItem x={722} y={65} kind="solid" text="measurement" />
      <LegItem x={899} y={65} kind="dashdot" text="reference" />
      <YLab cx={LEFT_R - 47} cy={t1 + hc}><TsupLab /></YLab>
      <YLab cx={LEFT_R - 48} cy={t2 + hc}><O2Lab /></YLab>
      <YLab cx={LEFT_R - 59} cy={t3 + hc}><TfbLab /></YLab>
      <YLab cx={LEFT_R - 59} cy={t4 + hc}><COLab /></YLab>
      <Txt cx={LEFT_R + W_R / 2} cy={738} size={27}>time in h</Txt>

      {/* ---------- c ---------- */}
      <Txt cx={LEFT_L + W_L / 2} cy={788} size={30}>c) wood chips (20 wt.-% H<sub style={subS}>2</sub>O)</Txt>
      <Sub left={LEFT_L} top={b1} w={W_L} x={xC} y={yT}>{meas(cTsup)}{refL(cTref)}</Sub>
      <Sub left={LEFT_L} top={b2} w={W_L} x={xC} y={yO}>
        {softArea(cSoft)}
        {refL(cO2ref)}{meas(cO2, false, 1.5)}
        <ReferenceDot x={2.24} y={5.4} r={0} fill="none" stroke="none" label={txtLabel('soft constraint active')} />
      </Sub>
      <Sub left={LEFT_L} top={b3} w={W_L} x={xC} y={yF}>{meas(cTfb)}{refL(cTfbRef)}</Sub>
      <Sub left={LEFT_L} top={b4} w={W_L} x={xC} y={yCOc}>{meas(cCO, false, 1.3)}</Sub>
      <LegItem x={106} y={828} kind="solid" text="measurement" />
      <LegItem x={286} y={828} kind="dashdot" text="reference" />
      <YLab cx={LEFT_L - 47} cy={b1 + hc}><TsupLab /></YLab>
      <YLab cx={LEFT_L - 48} cy={b2 + hc}><O2Lab /></YLab>
      <YLab cx={LEFT_L - 59} cy={b3 + hc}><TfbLab /></YLab>
      <YLab cx={LEFT_L - 71} cy={b4 + hc}><COLab /></YLab>
      <Txt cx={LEFT_L + W_L / 2} cy={1496} size={26}>time in h</Txt>

      {/* ---------- d ---------- */}
      <Txt cx={LEFT_R + W_R / 2} cy={788} size={30}>d) wood chips (35 wt.-% H<sub style={subS}>2</sub>O)</Txt>
      <Sub left={LEFT_R} top={b1} w={W_R} x={xD} y={yT}>{meas(dTsup)}{refL(dTref)}{band()}</Sub>
      <Sub left={LEFT_R} top={b2} w={W_R} x={xD} y={yO}>
        {softArea(dSoft)}
        {refL(dO2ref)}{meas(dO2, false, 1.5)}
        <ReferenceDot x={2.02} y={7.6} r={0} fill="none" stroke="none" label={txtLabel('soft constraint')} />
        <ReferenceDot x={2.02} y={4.0} r={0} fill="none" stroke="none" label={txtLabel('active')} />
        {band()}
      </Sub>
      <Sub left={LEFT_R} top={b3} w={W_R} x={xD} y={yF}>{meas(dTfb)}{refL(dTfbRef)}{band()}</Sub>
      <Sub left={LEFT_R} top={b4} w={W_R} x={xD} y={yCOd}>{meas(dCO, false, 1.3)}{band()}</Sub>
      <LegItem x={725} y={830} kind="solid" text="measurement" />
      <LegItem x={725} y={857} kind="dashdot" text="reference" />
      <YLab cx={LEFT_R - 47} cy={b1 + hc}><TsupLab /></YLab>
      <YLab cx={LEFT_R - 48} cy={b2 + hc}><O2Lab /></YLab>
      <YLab cx={LEFT_R - 59} cy={b3 + hc}><TfbLab /></YLab>
      <YLab cx={LEFT_R - 71} cy={b4 + hc}><COLab /></YLab>
      <Txt cx={LEFT_R + W_R / 2} cy={1496} size={26}>time in h</Txt>
    </div>
  );
}
